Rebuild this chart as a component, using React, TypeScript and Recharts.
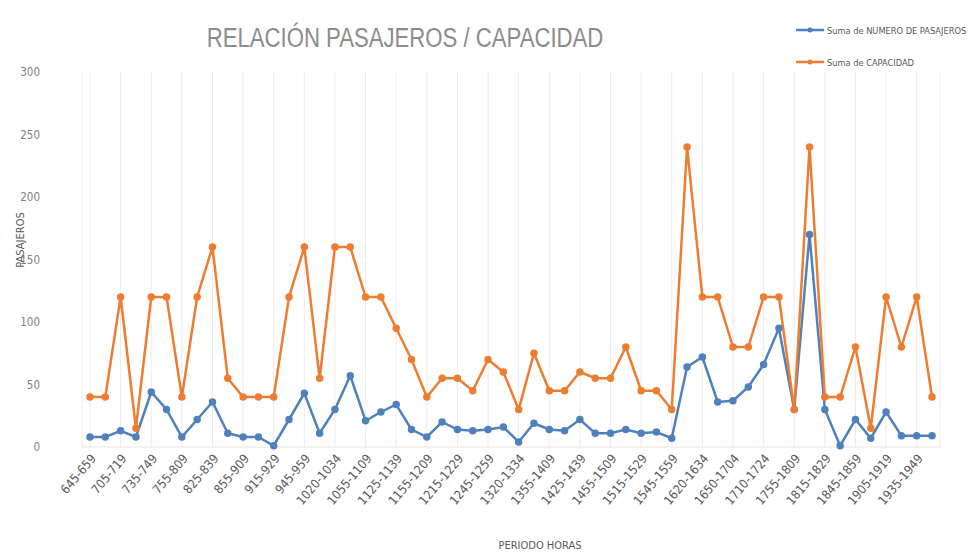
import { LineChart, Line, XAxis, YAxis, CartesianGrid } from 'recharts';

// periodos de 15 minutos (HHMM-HHMM)
const periodos = [
  '645-659', '655-709', '705-719', '720-734', '735-749', '745-759', '755-809', '810-824',
  '825-839', '840-854', '855-909', '905-919', '915-929', '930-944', '945-959', '1000-1014',
  '1020-1034', '1035-1049', '1055-1109', '1110-1124', '1125-1139', '1140-1154', '1155-1209', '1205-1219',
  '1215-1229', '1230-1244', '1245-1259', '1300-1314', '1320-1334', '1335-1349', '1355-1409', '1410-1424',
  '1425-1439', '1440-1454', '1455-1509', '1505-1519', '1515-1529', '1530-1544', '1545-1559', '1600-1614',
  '1620-1634', '1635-1649', '1650-1704', '1700-1714', '1710-1724', '1730-1744', '1755-1809', '1805-1819',
  '1815-1829', '1830-1844', '1845-1859', '1855-1909', '1905-1919', '1920-1934', '1935-1949', '1950-2004',
];

const pasajeros = [
  8, 8, 13, 8, 44, 30, 8, 22, 36, 11, 8, 8, 1, 22, 43, 11,
  30, 57, 21, 28, 34, 14, 8, 20, 14, 13, 14, 16, 4, 19, 14, 13,
  22, 11, 11, 14, 11, 12, 7, 64, 72, 36, 37, 48, 66, 95, 30, 170,
  30, 1, 22, 7, 28, 9, 9, 9,
];

const capacidad = [
  40, 40, 120, 15, 120, 120, 40, 120, 160, 55, 40, 40, 40, 120, 160, 55,
  160, 160, 120, 120, 95, 70, 40, 55, 55, 45, 70, 60, 30, 75, 45, 45,
  60, 55, 55, 80, 45, 45, 30, 240, 120, 120, 80, 80, 120, 120, 30, 240,
  40, 40, 80, 15, 120, 80, 120, 40,
];

const yTicks = [0, 50, 100, 150, 200, 250, 300];

const AZUL = '#4f81bd';
const NARANJA = '#ed7d31';
const GRIS = '#7f7f7f';
const FUENTE = '"DejaVu Sans Condensed", "Liberation Sans", sans-serif';

const data = periodos.map((p, i) => ({
  periodo: p,
  pasajeros: pasajeros[i],
  capacidad: capacidad[i],
}));

const series = [
  { key: 'pasajeros', name: 'Suma de NUMERO DE PASAJEROS', color: AZUL },
  { key: 'capacidad', name: 'Suma de CAPACIDAD', color: NARANJA },
];

function Leyenda() {
  return (
    <div style={{ position: 'absolute', left: 796, top: 22, fontFamily: FUENTE, fontSize: 9.2, color: '#595959' }}>
      {series.map((s) => (
        <div key={s.key} style={{ display: 'flex', alignItems: 'center', height: 16, marginBottom: 16, whiteSpace: 'nowrap' }}>
          <svg width={28} height={10} style={{ marginRight: 3 }}>
            <line x1={0} y1={5} x2={28} y2={5} stroke={s.color} strokeWidth={2.5} />
            <circle cx={14} cy={5} r={2.5} fill={s.color} />
          </svg>
          <span>{s.name}</span>
        </div>
      ))}
    </div>
  );
}

export default function App() {
  return (
    <div style={{ position: 'absolute', left: 0, top: 0, width: 974, height: 554, background: '#fff', overflow: 'hidden' }}>
      <div
        style={{
          position: 'absolute', left: 405, top: 38, transform: 'translate(-50%, -50%) scaleX(0.82)', whiteSpace: 'nowrap',
          fontFamily: '"Liberation Sans", sans-serif', fontSize: 27, color: '#8c8c8c',
        }}
      >
        RELACIÓN PASAJEROS / CAPACIDAD
      </div>
      <div
        style={{
          position: 'absolute', left: 20, top: 240, transform: 'translate(-50%, -50%) rotate(-90deg)',
          fontFamily: FUENTE, fontSize: 11, color: '#595959',
        }}
      >
        PASAJEROS
      </div>
      <div
        style={{
          position: 'absolute', left: 540, top: 545, transform: 'translate(-50%, -50%)',
          fontFamily: FUENTE, fontSize: 11, color: '#595959',
        }}
      >
        PERIODO HORAS
      </div>
      <Leyenda />
      <LineChart width={974} height={554} data={data} margin={{ top: 72, right: 34, left: 0, bottom: 0 }}>
        <CartesianGrid horizontal={false} vertical stroke="#f2eaea" />
        <XAxis
          dataKey="periodo"
          interval={1}
          height={107}
          padding={{ left: 8, right: 8 }}
          axisLine={{ stroke: '#eee4da' }}
          tickLine={false}
          tickSize={0}
          tickMargin={6}
          angle={-50}
          textAnchor="end"
          tick={{ fontSize: 12.5, fill: '#595959', fontFamily: FUENTE }}
        />
        <YAxis
          width={82}
          domain={[0, 300]}
          ticks={yTicks}
          axisLine={false}
          tickLine={false}
          tickSize={0}
          tickMargin={42}
          tick={{ fontSize: 11.5, fill: GRIS, fontFamily: FUENTE }}
        />
        {series.map((s) => (
          <Line
            key={s.key}
            type="linear"
            dataKey={s.key}
            name={s.name}
            stroke={s.color}
            strokeWidth={2.5}
            dot={{ r: 2.5, fill: s.color, stroke: s.color }}
            isAnimationActive={false}
          />
        ))}
      </LineChart>
    </div>
  );
}
